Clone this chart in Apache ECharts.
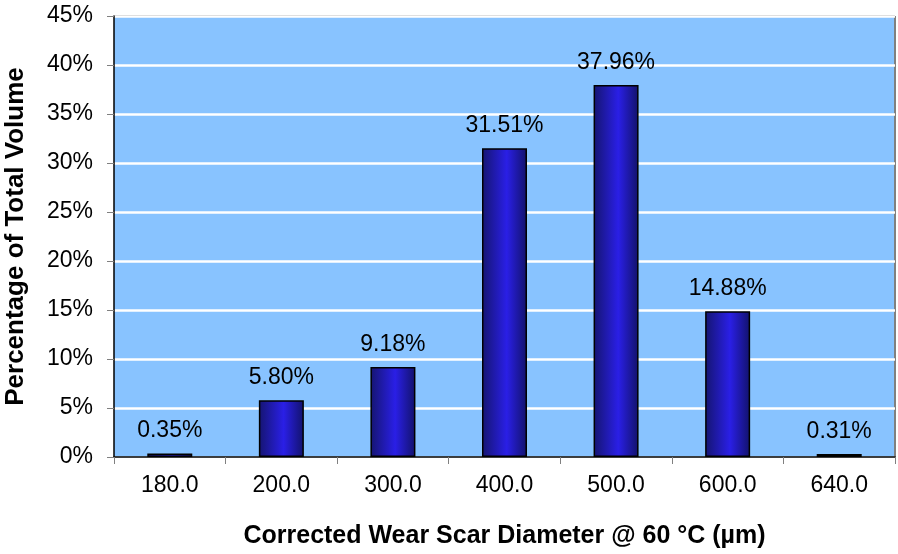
<!DOCTYPE html>
<html><head><meta charset="utf-8">
<script src="https://cdn.jsdelivr.net/npm/echarts@6/dist/echarts.min.js"></script>
<style>html,body{margin:0;padding:0;background:#fff}#c{width:898px;height:554px}</style>
</head><body><div id="c"></div>
<script>
const categories = ['180.0','200.0','300.0','400.0','500.0','600.0','640.0'];
const values = [0.35, 5.80, 9.18, 31.51, 37.96, 14.88, 0.31];
const yTicks = [0,5,10,15,20,25,30,35,40,45];

const chart = echarts.init(document.getElementById('c'));
const font = '"Liberation Sans", Arial, sans-serif';
chart.setOption({
  animation:false,
  grid:{left:114,right:3,top:16,bottom:97,show:true,backgroundColor:'#88c3ff',borderColor:'#808080',borderWidth:0,outerBoundsMode:'none',containLabel:false},
  xAxis:{type:'category',data:categories,
    axisLine:{lineStyle:{color:'#000',width:1.5}},
    axisTick:{show:true,interval:0,length:7,lineStyle:{color:'#808080'}},
    axisLabel:{color:'#000',fontSize:23,fontFamily:font,margin:17},
    name:'Corrected Wear Scar Diameter @ 60 °C (µm)',nameLocation:'middle',nameGap:67,
    nameTextStyle:{color:'#000',fontSize:25,fontWeight:'bold',fontFamily:font}},
  yAxis:{type:'value',min:0,max:45,interval:5,
    axisLine:{show:true,lineStyle:{color:'#000',width:1.5}},
    axisTick:{show:true,length:7,lineStyle:{color:'#808080'}},
    axisLabel:{color:'#000',fontSize:23,fontFamily:font,margin:21,formatter:v=>v+'%'},
    splitLine:{lineStyle:{color:'#fff',width:2.5}},
    name:'Percentage of Total Volume',nameLocation:'middle',nameGap:85,
    nameTextStyle:{color:'#000',fontSize:26,fontWeight:'bold',fontFamily:font}},
  series:[{type:'bar',data:values,barWidth:45,
    itemStyle:{borderColor:'#000',borderWidth:1.5,
      color:new echarts.graphic.LinearGradient(0,0,1,0,[
        {offset:0,color:'#151570'},{offset:0.55,color:'#2a1fe6'},{offset:1,color:'#12126a'}])},
    label:{show:true,position:'top',distance:11,color:'#000',fontSize:23,fontFamily:font,
      formatter:p=>p.value.toFixed(2)+'%'}}],
  graphic:[{type:'line',shape:{x1:114,y1:16,x2:895,y2:16},style:{stroke:'#808080',lineWidth:2}},
           {type:'line',shape:{x1:895,y1:16,x2:895,y2:457},style:{stroke:'#808080',lineWidth:2}}]
});
</script></body></html>
